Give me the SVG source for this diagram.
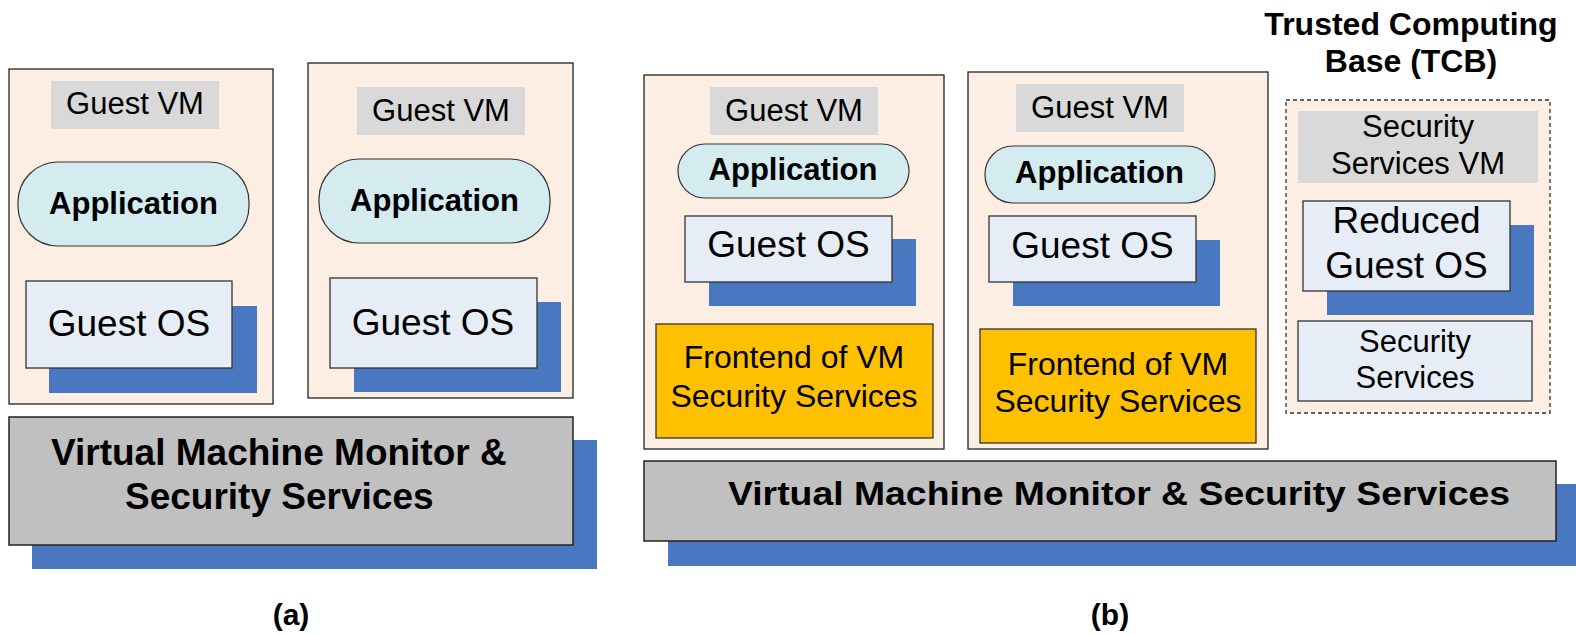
<svg xmlns="http://www.w3.org/2000/svg" width="1576" height="634" viewBox="0 0 1576 634">
<style>
  text { font-family: "Liberation Sans", Arial, sans-serif; fill: #000; }
  .vm { fill: #fdeee4; stroke: #222; stroke-width: 1.3; }
  .tcb { fill: #fdeee4; stroke: #333; stroke-width: 1.3; stroke-dasharray: 4 3; }
  .lbl { fill: #d9d9d9; }
  .app { fill: #d4ebf0; stroke: #333; stroke-width: 1.2; }
  .os { fill: #e7edf7; stroke: #333; stroke-width: 1.3; }
  .sh { fill: #4a78c0; }
  .fe { fill: #ffc000; stroke: #333; stroke-width: 1.3; }
  .vmm { fill: #c0c0c0; stroke: #222; stroke-width: 1.5; }
  .t31 { font-size: 31px; text-anchor: middle; }
  .t32 { font-size: 32px; text-anchor: middle; }
  .b31 { font-size: 31px; font-weight: bold; text-anchor: middle; }
  .t37 { font-size: 37px; text-anchor: middle; }
</style>
<g id="connectors"/>

<!-- (a) -->
<g id="vm-a1">
  <rect class="vm" x="9" y="69" width="264" height="335"/>
  <rect class="lbl" x="51" y="81" width="168" height="48"/>
  <text class="t31" x="135" y="114">Guest VM</text>
  <rect class="app" x="18" y="162" width="231" height="84" rx="40" ry="40"/>
  <text class="b31" x="133.5" y="214">Application</text>
  <rect class="sh" x="49" y="306" width="208" height="87"/>
  <rect class="os" x="26" y="281" width="206" height="87"/>
  <text class="t37" x="129" y="336">Guest OS</text>
</g>
<g id="vm-a2">
  <rect class="vm" x="308" y="63" width="265" height="335"/>
  <rect class="lbl" x="357" y="87" width="168" height="48"/>
  <text class="t31" x="441" y="121">Guest VM</text>
  <rect class="app" x="319" y="159" width="231" height="84" rx="40" ry="40"/>
  <text class="b31" x="434.5" y="211">Application</text>
  <rect class="sh" x="354" y="302" width="207" height="90"/>
  <rect class="os" x="330" y="278" width="207" height="90"/>
  <text class="t37" x="433" y="335">Guest OS</text>
</g>
<g id="vmm-a">
  <rect class="sh" x="32" y="440" width="565" height="129"/>
  <rect class="vmm" x="9" y="417" width="564" height="128"/>
  <text x="51" y="465" font-size="37" font-weight="bold">Virtual Machine Monitor &amp;</text>
  <text x="125" y="509" font-size="37" font-weight="bold">Security Services</text>
</g>
<g id="label-a">
  <text x="291" y="625" font-size="30" font-weight="bold" text-anchor="middle">(a)</text>
</g>

<!-- (b) -->
<g id="vm-b1">
  <rect class="vm" x="644" y="75" width="300" height="374"/>
  <rect class="lbl" x="710" y="87" width="168" height="48"/>
  <text class="t31" x="794" y="121">Guest VM</text>
  <rect class="app" x="678" y="144" width="231" height="54" rx="27" ry="27"/>
  <text class="b31" x="793" y="180">Application</text>
  <rect class="sh" x="709" y="239" width="207" height="67"/>
  <rect class="os" x="685" y="216" width="207" height="66"/>
  <text class="t37" x="788.5" y="257">Guest OS</text>
  <rect class="fe" x="656" y="324" width="277" height="114"/>
  <text class="t32" x="794" y="368">Frontend of VM</text>
  <text class="t32" x="794" y="407">Security Services</text>
</g>
<g id="vm-b2">
  <rect class="vm" x="968" y="72" width="300" height="377"/>
  <rect class="lbl" x="1016" y="84" width="168" height="48"/>
  <text class="t31" x="1100" y="118">Guest VM</text>
  <rect class="app" x="985" y="146" width="230" height="57" rx="28" ry="28"/>
  <text class="b31" x="1099.5" y="183">Application</text>
  <rect class="sh" x="1013" y="240" width="207" height="66"/>
  <rect class="os" x="989" y="216" width="207" height="66"/>
  <text class="t37" x="1092.5" y="258">Guest OS</text>
  <rect class="fe" x="980" y="329" width="276" height="114"/>
  <text class="t32" x="1118" y="375">Frontend of VM</text>
  <text class="t32" x="1118" y="412">Security Services</text>
</g>
<g id="tcb">
  <text x="1411" y="35" font-size="32" font-weight="bold" text-anchor="middle">Trusted Computing</text>
  <text x="1411" y="72" font-size="32" font-weight="bold" text-anchor="middle">Base (TCB)</text>
  <rect class="tcb" x="1286" y="100" width="264" height="313"/>
  <rect class="lbl" x="1298" y="111" width="240" height="72"/>
  <text class="t31" x="1418" y="137">Security</text>
  <text class="t31" x="1418" y="174">Services VM</text>
  <rect class="sh" x="1327" y="225" width="207" height="90"/>
  <rect class="os" x="1303" y="201" width="207" height="90"/>
  <text class="t37" x="1406.5" y="233">Reduced</text>
  <text class="t37" x="1406.5" y="278">Guest OS</text>
  <rect class="os" x="1298" y="321" width="234" height="80"/>
  <text class="t31" x="1415" y="352">Security</text>
  <text class="t31" x="1415" y="388">Services</text>
</g>
<g id="vmm-b">
  <rect class="sh" x="668" y="484" width="908" height="82"/>
  <rect class="vmm" x="644" y="461" width="912" height="80"/>
  <text x="728" y="505" font-size="33" font-weight="bold" textLength="782" lengthAdjust="spacingAndGlyphs">Virtual Machine Monitor &amp; Security Services</text>
</g>
<g id="label-b">
  <text x="1110" y="625" font-size="30" font-weight="bold" text-anchor="middle">(b)</text>
</g>
</svg>
